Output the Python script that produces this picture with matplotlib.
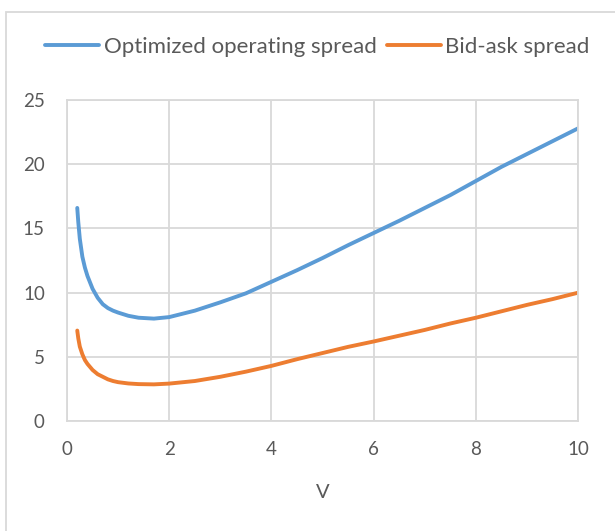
import matplotlib
matplotlib.use('Agg')
import matplotlib.pyplot as plt
from matplotlib.patches import Rectangle

# values
v = [0.2, 0.22, 0.25, 0.3, 0.35, 0.4, 0.5, 0.6, 0.7, 0.8, 0.9, 1.0, 1.2, 1.4,
     1.7, 2.0, 2.5, 3.0, 3.5, 4.0, 4.5, 5.0, 5.5, 6.0, 6.5, 7.0, 7.5, 8.0,
     8.5, 9.0, 9.5, 10.0]
operating_spread = [16.6, 15.5, 14.2, 12.8, 11.95, 11.3, 10.3, 9.6, 9.1, 8.8,
                    8.6, 8.45, 8.2, 8.05, 7.98, 8.1, 8.6, 9.25, 9.95, 10.85,
                    11.75, 12.7, 13.7, 14.65, 15.6, 16.6, 17.6, 18.7, 19.8,
                    20.8, 21.8, 22.8]
bid_ask_spread = [7.05, 6.45, 5.8, 5.2, 4.75, 4.45, 3.98, 3.65, 3.45, 3.25,
                  3.12, 3.03, 2.93, 2.88, 2.86, 2.92, 3.12, 3.45, 3.85, 4.3,
                  4.82, 5.3, 5.78, 6.2, 6.65, 7.1, 7.6, 8.05, 8.55, 9.05,
                  9.5, 10.0]

x_ticks = [0, 2, 4, 6, 8, 10]
y_ticks = [0, 5, 10, 15, 20, 25]

plt.rcParams['font.family'] = ['Lato', 'DejaVu Sans']
text_col = '#595959'
grid_col = '#d9d9d9'

fig = plt.figure(figsize=(6.15, 5.31), dpi=100)
ax = fig.add_axes([0.109, 0.207, 0.831, 0.6045])

ax.plot(v, operating_spread, color='#5b9bd5', lw=2.8, label='Optimized operating spread',
        solid_capstyle='round')
ax.plot(v, bid_ask_spread, color='#ed7d31', lw=2.8, label='Bid-ask spread',
        solid_capstyle='round')

ax.set_xlim(0, 10)
ax.set_ylim(0, 25)
ax.set_xticks(x_ticks)
ax.set_yticks(y_ticks)
ax.grid(True, color=grid_col, lw=1.3)
ax.set_axisbelow(True)
for s in ax.spines.values():
    s.set_color(grid_col)
    s.set_linewidth(1.3)
ax.tick_params(length=0, labelsize=13.5, colors=text_col)
ax.tick_params(axis='y', pad=16)
ax.tick_params(axis='x', pad=14)
ax.set_xlabel('V', fontsize=14.5, color=text_col, labelpad=19)

fig.legend(loc='center', bbox_to_anchor=(0.516, 0.911), ncol=2, frameon=False,
           fontsize=16, labelcolor=text_col, handlelength=2.45, handletextpad=0.2,
           columnspacing=0.45)

# outer chart frame
fig.patches.append(Rectangle((6 / 615, -0.1), 1.2, 1.1 - 12 / 531,
                             transform=fig.transFigure, fill=False,
                             edgecolor=grid_col, lw=1.3))

fig.savefig('out.png', dpi=100)
